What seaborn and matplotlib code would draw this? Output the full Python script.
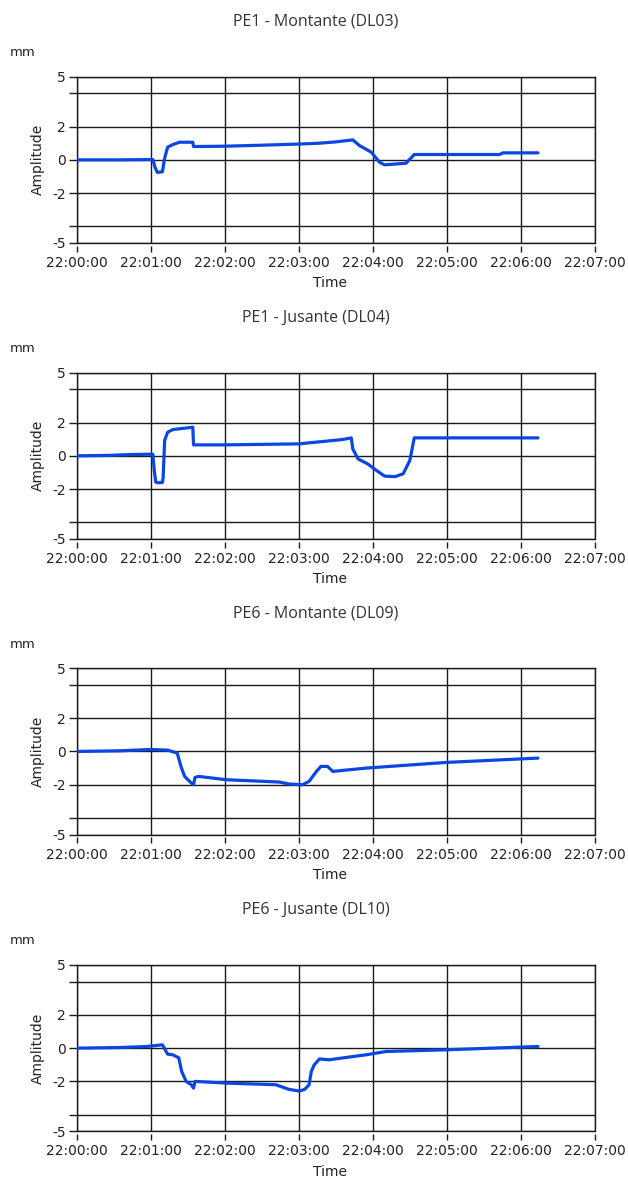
import matplotlib
matplotlib.use("Agg")
import matplotlib.pyplot as plt
import seaborn as sns
import pandas as pd

# ---------------- data (time in minutes after 22:00:00, amplitude in mm) ----------------
titles = ["PE1 - Montante (DL03)", "PE1 - Jusante (DL04)",
          "PE6 - Montante (DL09)", "PE6 - Jusante (DL10)"]

t_dl03 = [0.00, 0.60, 1.03, 1.06, 1.09, 1.16, 1.19, 1.23, 1.30, 1.39, 1.57, 1.58,
          2.00, 2.50, 3.00, 3.28, 3.50, 3.73, 3.82, 3.98, 4.09, 4.16, 4.45, 4.56,
          5.00, 5.71, 5.76, 6.23]
v_dl03 = [0.00, 0.00, 0.02, -0.45, -0.75, -0.72, 0.10, 0.76, 0.92, 1.06, 1.06, 0.80,
          0.82, 0.88, 0.95, 1.00, 1.08, 1.20, 0.86, 0.46, -0.14, -0.30, -0.20, 0.32,
          0.32, 0.32, 0.42, 0.42]

t_dl04 = [0.00, 0.45, 0.75, 1.03, 1.05, 1.07, 1.09, 1.16, 1.17, 1.19, 1.23, 1.30,
          1.57, 1.58, 2.00, 3.00, 3.59, 3.71, 3.73, 3.80, 3.93, 4.05, 4.16, 4.30,
          4.41, 4.50, 4.56, 5.00, 6.23]
v_dl04 = [0.00, 0.03, 0.08, 0.10, -0.88, -1.58, -1.62, -1.60, -1.28, 0.92, 1.42, 1.58,
          1.72, 0.66, 0.66, 0.72, 0.98, 1.08, 0.42, -0.18, -0.48, -0.88, -1.22, -1.25,
          -1.08, -0.28, 1.08, 1.08, 1.08]

t_dl09 = [0.00, 0.60, 1.00, 1.23, 1.36, 1.41, 1.46, 1.55, 1.58, 1.60, 1.65, 2.02,
          2.74, 2.87, 3.05, 3.14, 3.24, 3.30, 3.39, 3.46, 3.91, 4.99, 6.23]
v_dl09 = [0.00, 0.04, 0.12, 0.08, -0.10, -0.90, -1.50, -1.90, -2.00, -1.56, -1.50, -1.70,
          -1.84, -1.96, -2.00, -1.80, -1.20, -0.90, -0.90, -1.20, -1.00, -0.66, -0.40]

t_dl10 = [0.00, 0.60, 0.95, 1.16, 1.23, 1.30, 1.38, 1.42, 1.48, 1.55, 1.58, 1.60,
          2.02, 2.69, 2.87, 3.01, 3.08, 3.14, 3.17, 3.21, 3.28, 3.41, 3.69, 3.91,
          4.18, 4.99, 6.23]
v_dl10 = [0.00, 0.04, 0.10, 0.20, -0.36, -0.40, -0.58, -1.40, -2.00, -2.20, -2.40, -2.00,
          -2.10, -2.20, -2.48, -2.58, -2.48, -2.20, -1.40, -1.00, -0.65, -0.70, -0.53, -0.40,
          -0.20, -0.10, 0.10]

series_t = [t_dl03, t_dl04, t_dl09, t_dl10]
series_v = [v_dl03, v_dl04, v_dl09, v_dl10]

x_ticks = [0, 1, 2, 3, 4, 5, 6, 7]
x_tick_labels = ["22:00:00", "22:01:00", "22:02:00", "22:03:00",
                 "22:04:00", "22:05:00", "22:06:00", "22:07:00"]
y_ticks = [-5, -4, -2, 0, 2, 4, 5]
y_tick_labels = ["-5", "", "-2", "0", "2", "", "5"]

# ---------------- figure ----------------
sns.set_theme(style="white")
plt.rcParams["font.family"] = ["DejaVu Sans"]

W, H = 628, 1178
fig = plt.figure(figsize=(W / 100, H / 100), dpi=100)
fig.patch.set_facecolor("white")

left_px, right_px = 76.5, 595.0
tops = [76.7, 372.7, 668.3, 965.0]
ax_h = 166.3
title_y = [22, 318, 614, 910]
mm_y = [52.7, 348.0, 644.0, 940.0]

line_color = "#0a46e2"

for i in range(4):
    top = tops[i]
    ax = fig.add_axes([left_px / W, 1 - (top + ax_h) / H,
                       (right_px - left_px) / W, ax_h / H])
    df = pd.DataFrame({"Time": series_t[i], "Amplitude": series_v[i]})
    sns.lineplot(data=df, x="Time", y="Amplitude", ax=ax, color=line_color,
                 linewidth=2.3, estimator=None, sort=False, zorder=5)

    ax.set_xlim(0, 7)
    ax.set_ylim(-5, 5)
    ax.set_xticks(x_ticks)
    ax.set_xticklabels(x_tick_labels)
    ax.set_yticks(y_ticks)
    ax.set_yticklabels(y_tick_labels)

    ax.grid(True, color="#1a1a1a", linewidth=1.0)
    ax.set_axisbelow(True)
    for s in ["left", "top", "right"]:
        ax.spines[s].set_color("#1a1a1a")
        ax.spines[s].set_linewidth(1.0)
        ax.spines[s].set_visible(True)
    ax.spines["bottom"].set_position(("outward", 2))
    ax.spines["bottom"].set_visible(False)
    ax.axhline(-5, color="#1a1a1a", linewidth=1.0, clip_on=False, zorder=3)

    ax.tick_params(axis="x", direction="out", length=4.5, width=1.0, color="#1a1a1a",
                   labelsize=10, labelcolor="#222222", pad=3, bottom=True)
    ax.tick_params(axis="y", direction="out", length=5.5, width=1.0, color="#1a1a1a",
                   labelsize=10, labelcolor="#222222", pad=2, left=True)

    ax.set_xlabel("Time", fontsize=10, color="#222222")
    ax.xaxis.set_label_coords((330 - left_px) / (right_px - left_px), -(276 - 242.7) / ax_h)
    ax.set_ylabel("Amplitude", fontsize=10, color="#222222")
    ax.yaxis.set_label_coords((38 - left_px) / (right_px - left_px), 0.5)
    ax.yaxis.label.set_verticalalignment("center")

    fig.text(316 / W, 1 - title_y[i] / H, titles[i], ha="center", va="center",
             fontsize=11.5, color="#333333", family=["Open Sans", "DejaVu Sans"])
    fig.text(10 / W, 1 - mm_y[i] / H, "mm", ha="left", va="center",
             fontsize=9.5, color="#222222")

fig.savefig("out.png", dpi=100, facecolor="white")
